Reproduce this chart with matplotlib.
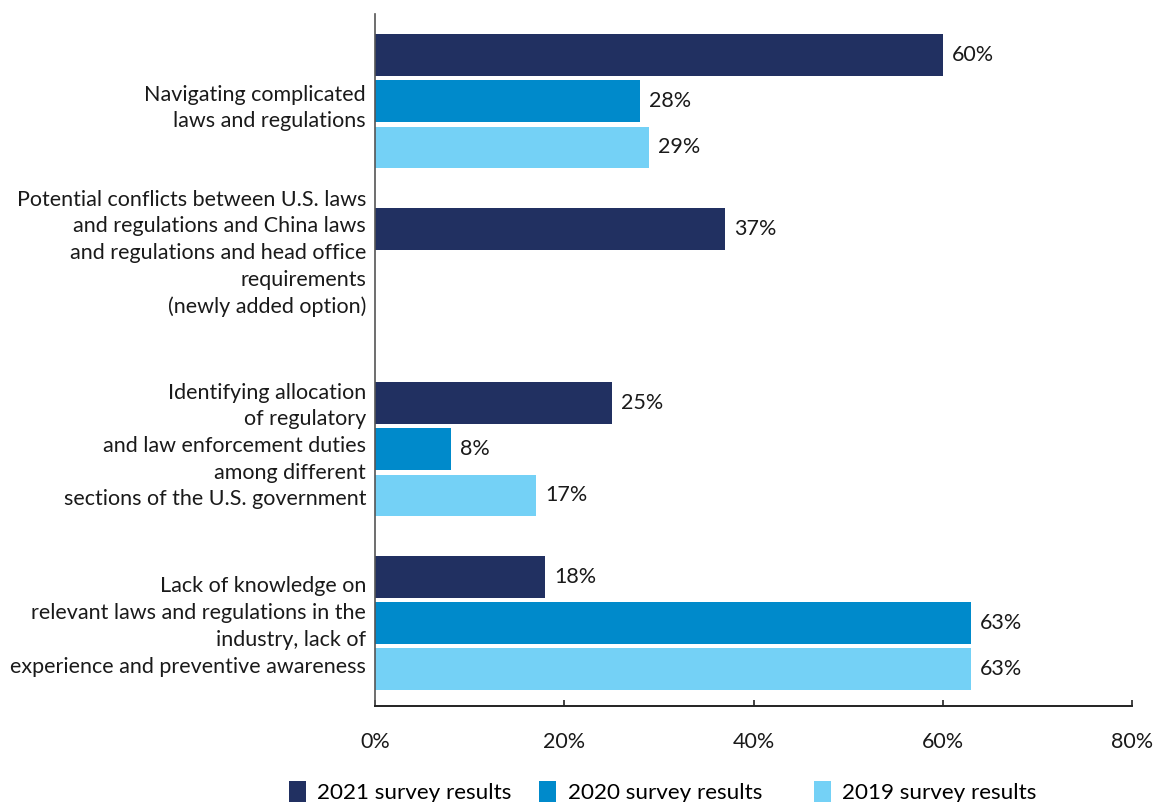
import matplotlib
matplotlib.use("Agg")
import matplotlib.pyplot as plt
from matplotlib.patches import Patch

# Survey data (percent of respondents)
categories = [
    "Navigating complicated\nlaws and regulations",
    "Potential conflicts between U.S. laws\nand regulations and China laws\nand regulations and head office\nrequirements\n(newly added option)",
    "Identifying allocation\nof regulatory\nand law enforcement duties\namong different\nsections of the U.S. government",
    "Lack of knowledge on\nrelevant laws and regulations in the\nindustry, lack of\nexperience and preventive awareness",
]
series_names = ["2021 survey results", "2020 survey results", "2019 survey results"]
values_2021 = [60, 37, 25, 18]
values_2020 = [28, None, 8, 63]
values_2019 = [29, None, 17, 63]
x_ticks = [0, 20, 40, 60, 80]
x_tick_labels = ["0%", "20%", "40%", "60%", "80%"]

colors = ["#213061", "#008ACB", "#74D1F6"]
label_shift = [0.04, -0.124, -0.017, 0.02]
legend_x = [0.250, 0.467, 0.705]

plt.rcParams["font.family"] = ["Lato", "DejaVu Sans"]
FS = 15.5

fig = plt.figure(figsize=(11.55, 8.02), dpi=100)
ax = fig.add_axes([0.3247, 0.1197, 0.6554, 0.8628])

offsets = [-0.267, 0.0, 0.267]
bar_h = 0.241
for s, vals in enumerate([values_2021, values_2020, values_2019]):
    for i, v in enumerate(vals):
        if v is None:
            continue
        y = i + offsets[s]
        ax.barh(y, v, height=bar_h, color=colors[s], linewidth=0)
        ax.text(v + 0.95, y, f"{v}%", va="center", ha="left", fontsize=FS, color="#1a1a1a")

ax.set_xlim(0, 80)
ax.set_ylim(3.477, -0.5)
ax.set_xticks(x_ticks)
ax.set_xticklabels(x_tick_labels, fontsize=FS, color="#1a1a1a")
ax.tick_params(axis="x", direction="in", length=4.5, width=1.2, pad=19, color="#222222")
ax.set_yticks([])

for i, cat in enumerate(categories):
    ax.text(-9 / 9.46, i + label_shift[i], cat, ha="right", va="center",
            fontsize=FS, color="#1a1a1a", linespacing=1.42)

for side in ["top", "right"]:
    ax.spines[side].set_visible(False)
ax.spines["left"].set_color("#555555")
ax.spines["left"].set_linewidth(1.2)
ax.spines["bottom"].set_color("#222222")
ax.spines["bottom"].set_linewidth(1.4)

# One legend entry per series, spread along the bottom edge
for name, c, lx in zip(series_names, colors, legend_x):
    fig.legend([Patch(facecolor=c, edgecolor="none")], [name], loc="center left",
               bbox_to_anchor=(lx, 0.012), frameon=False, fontsize=16.2,
               handlelength=0.75, handleheight=1.0, handletextpad=0.5, borderpad=0,
               borderaxespad=0)

fig.savefig("out.png", dpi=100)
